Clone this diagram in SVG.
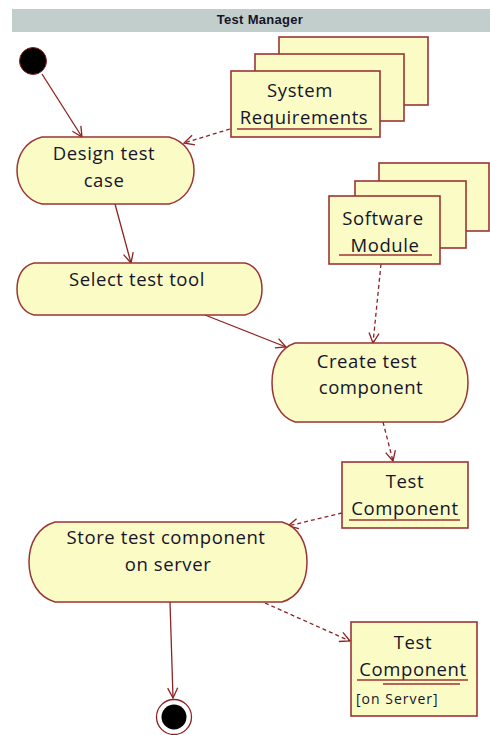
<svg xmlns="http://www.w3.org/2000/svg" width="490" height="735" viewBox="0 0 490 735">
  <style>
    .act { fill: #fbfbc6; stroke: #9b3535; stroke-width: 1.5; }
    .obj { fill: #fbfbc6; stroke: #9b3535; stroke-width: 1.6; }
    .ul { stroke: #9b3535; stroke-width: 1.6; fill: none; }
    .lbl { font-family: "Open Sans", "Liberation Sans", sans-serif; font-size: 18.5px; letter-spacing: 0.6px; fill: #14142a; text-anchor: middle; }
    .small { font-family: "Open Sans", "Liberation Sans", sans-serif; font-size: 14px; letter-spacing: 1px; fill: #14142a; }
    .flow { stroke: #8e2222; stroke-width: 1.3; fill: none; }
    .dep { stroke: #8e2222; stroke-width: 1.3; fill: none; stroke-dasharray: 4 3; }
  </style>
  <defs>
    <marker id="open" viewBox="0 0 12 12" refX="11" refY="6" markerWidth="12" markerHeight="12" markerUnits="userSpaceOnUse" orient="auto">
      <path d="M1,1 L11,6 L1,11" fill="none" stroke="#8e2222" stroke-width="1.3"/>
    </marker>
  </defs>

  <rect width="490" height="735" fill="#ffffff"/>

  <!-- partition header -->
  <g id="header">
    <rect x="12" y="9" width="478" height="23" fill="#c2cecb"/>
    <text x="260" y="24" font-family="'Liberation Sans', Arial, sans-serif" font-size="13px" font-weight="bold" fill="#14142a" text-anchor="middle" letter-spacing="0.3">Test Manager</text>
  </g>

  <!-- connectors -->
  <g id="connectors">
    <path class="flow" d="M42,74 L82,137" marker-end="url(#open)"/>
    <path class="dep" d="M230,129 L184,143" marker-end="url(#open)"/>
    <path class="flow" d="M115,204 L131,263" marker-end="url(#open)"/>
    <path class="dep" d="M381,264 L373,343" marker-end="url(#open)"/>
    <path class="flow" d="M205,315 L286,347" marker-end="url(#open)"/>
    <path class="dep" d="M383,422 L393,461" marker-end="url(#open)"/>
    <path class="dep" d="M342,513 L288,526" marker-end="url(#open)"/>
    <path class="flow" d="M170,602 L173,698" marker-end="url(#open)"/>
    <path class="dep" d="M265,603 L350,641" marker-end="url(#open)"/>
  </g>

  <g id="initial">
    <circle cx="33" cy="61" r="13.5" fill="#000000" stroke="#8e2222" stroke-width="1"/>
  </g>

  <g id="system-requirements">
    <rect class="obj" x="279" y="37" width="149" height="68"/>
    <rect class="obj" x="255" y="54" width="149" height="67"/>
    <rect class="obj" x="231" y="71" width="149" height="66"/>
    <text class="lbl" x="300" y="97">System</text>
    <text class="lbl" x="304" y="124">Requirements</text>
    <line class="ul" x1="237" y1="129" x2="372" y2="129"/>
  </g>

  <g id="design-test-case">
    <path class="act" d="M42,137 H169 C185,141 194,155 194,170.5 C194,186 185,200 169,204 H42 C26,200 17,186 17,170.5 C17,155 26,141 42,137 Z"/>
    <text class="lbl" x="104" y="160">Design test</text>
    <text class="lbl" x="104" y="187">case</text>
  </g>

  <g id="select-test-tool">
    <path class="act" d="M34,263 H245 C257,266 262,277 262,289 C262,301 257,312 245,315 H34 C22,312 17,301 17,289 C17,277 22,266 34,263 Z"/>
    <text class="lbl" x="137" y="286">Select test tool</text>
  </g>

  <g id="software-module">
    <rect class="obj" x="379" y="163" width="110" height="68"/>
    <rect class="obj" x="355" y="181" width="111" height="67"/>
    <rect class="obj" x="329" y="196" width="111" height="68"/>
    <text class="lbl" x="383" y="225">Software</text>
    <text class="lbl" x="385" y="252">Module</text>
    <line class="ul" x1="339" y1="255" x2="432" y2="255"/>
  </g>

  <g id="create-test-component">
    <path class="act" d="M295,343 H443 C460,348 468,364 468,382.5 C468,401 460,417 443,422 H295 C280,417 272,401 272,382.5 C272,364 280,348 295,343 Z"/>
    <text class="lbl" x="367" y="368">Create test</text>
    <text class="lbl" x="371" y="394">component</text>
  </g>

  <g id="test-component">
    <rect class="obj" x="342" y="462" width="126" height="66"/>
    <text class="lbl" x="405" y="488">Test</text>
    <text class="lbl" x="405" y="515">Component</text>
    <line class="ul" x1="349" y1="520" x2="460" y2="520"/>
  </g>

  <g id="store-test-component">
    <path class="act" d="M55,522 H282 C299,527 307,543 307,562 C307,581 299,597 282,602 H55 C38,597 29,581 29,562 C29,543 38,527 55,522 Z"/>
    <text class="lbl" x="166" y="544">Store test component</text>
    <text class="lbl" x="168" y="571">on server</text>
  </g>

  <g id="test-component-on-server">
    <rect class="obj" x="351" y="622" width="126" height="94"/>
    <text class="lbl" x="413" y="649">Test</text>
    <text class="lbl" x="413" y="676">Component</text>
    <line class="ul" x1="357" y1="680" x2="468" y2="680"/>
    <line class="ul" x1="383" y1="684" x2="460" y2="684"/>
    <text class="small" x="356" y="704">[on Server]</text>
  </g>

  <g id="final">
    <circle cx="174" cy="717" r="17.5" fill="#ffffff" stroke="#8e2222" stroke-width="1.3"/>
    <circle cx="174" cy="717" r="12.5" fill="#000000"/>
  </g>
</svg>
